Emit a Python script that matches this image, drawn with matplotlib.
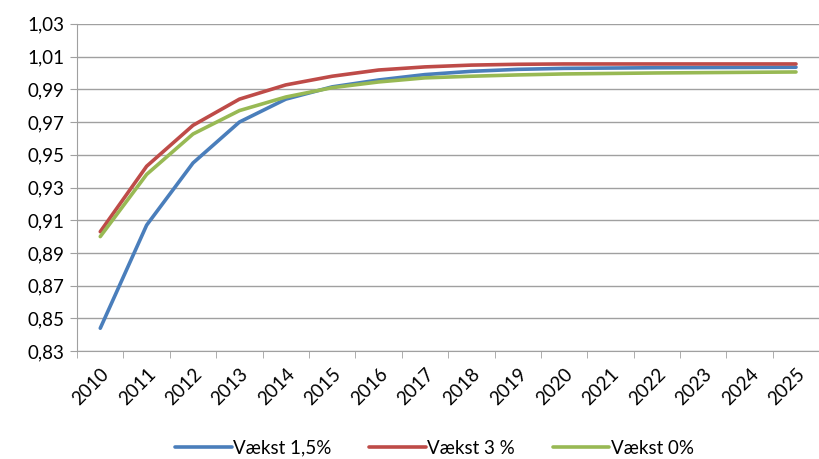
import numpy as np
import matplotlib.pyplot as plt

years = [str(y) for y in range(2010, 2026)]
vaekst_15 = [0.844, 0.907, 0.945, 0.970, 0.984, 0.9915, 0.9957, 0.9990, 1.0010, 1.0022,
             1.0028, 1.0030, 1.0032, 1.0033, 1.0034, 1.0035]
vaekst_3 = [0.903, 0.943, 0.968, 0.984, 0.9927, 0.998, 1.0018, 1.0037, 1.0048, 1.0053,
            1.0055, 1.0055, 1.0055, 1.0055, 1.0055, 1.0055]
vaekst_0 = [0.900, 0.938, 0.9627, 0.977, 0.9853, 0.991, 0.9945, 0.997, 0.998, 0.9988,
            0.9994, 0.9997, 1.0000, 1.0002, 1.0004, 1.0006]
y_ticks = [0.83, 0.85, 0.87, 0.89, 0.91, 0.93, 0.95, 0.97, 0.99, 1.01, 1.03]

plt.rcParams['font.family'] = ['Lato', 'DejaVu Sans']

fig = plt.figure(figsize=(8.2, 4.59), dpi=100)
ax = fig.add_axes([0.094, 0.235, 0.905, 0.713])

x = np.arange(len(years))
ax.plot(x, vaekst_15, color='#4a7ebb', lw=2.6, label='Vækst 1,5%', solid_capstyle='round')
ax.plot(x, vaekst_3, color='#be4b48', lw=2.6, label='Vækst 3 %', solid_capstyle='round')
ax.plot(x, vaekst_0, color='#98b954', lw=2.6, label='Vækst 0%', solid_capstyle='round')

ax.set_xlim(-0.5, len(years) - 0.5)
ax.set_ylim(0.83, 1.03)
ax.set_yticks(y_ticks)
ax.set_yticklabels([f'{v:.2f}'.replace('.', ',') for v in y_ticks], fontsize=13.5)
ax.yaxis.grid(True, color='#a0a0a0', lw=1)
ax.set_axisbelow(True)

ax.set_xticks(x)
ax.set_xticklabels(years, rotation=45, ha='right', rotation_mode='anchor', fontsize=13.5)
ax.set_xticks(np.arange(-0.5, len(years)), minor=True)
ax.tick_params(axis='x', which='major', length=0, pad=10)
ax.tick_params(axis='x', which='minor', length=5, color='#a0a0a0')
ax.tick_params(axis='y', length=5, color='#a0a0a0', pad=4)

for s in ['top', 'right']:
    ax.spines[s].set_visible(False)
ax.spines['left'].set_color('#a0a0a0')
ax.spines['bottom'].set_color('#a0a0a0')

fig.legend(loc='lower center', bbox_to_anchor=(0.53, -0.032), ncol=3, frameon=False,
           fontsize=13.5, handlelength=3.0, handletextpad=0.1, columnspacing=2.0)

fig.savefig('out.png', dpi=100)
